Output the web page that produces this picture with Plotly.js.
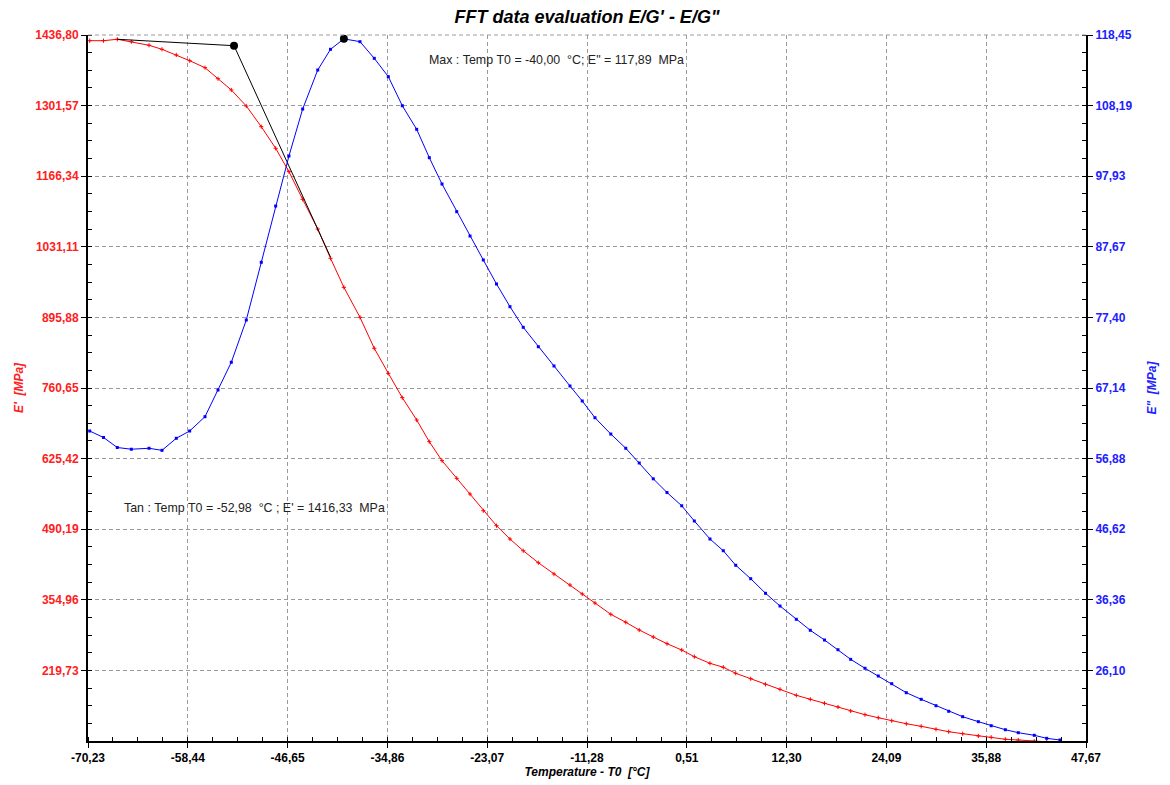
<!DOCTYPE html>
<html><head><meta charset="utf-8">
<script src="https://cdn.plot.ly/plotly-3.0.1.min.js"></script>
<style>html,body{margin:0;padding:0;background:#fff}#chart{width:1170px;height:785px}</style>
</head><body><div id="chart"></div>
<script>
// Temperature T0 [°C]
const temperature = [
  -70.03, -68.40, -66.77, -65.11, -63.02, -61.49, -59.80, -58.22, -56.41, -54.87,
  -53.30, -51.53, -49.76, -48.06, -46.49, -44.87, -43.09, -41.58, -40.00, -38.10,
  -36.41, -34.75, -33.10, -31.40, -29.91, -28.41, -26.67, -25.10, -23.53, -21.97,
  -20.38, -18.81, -17.03, -15.18, -13.29, -11.84, -10.34, -8.47, -6.70, -5.11,
  -3.45, -1.83, -0.09, 1.40, 3.25, 4.82, 6.29, 8.06, 9.81, 11.52,
  13.45, 15.10, 16.78, 18.37, 19.87, 21.56, 23.13, 24.72, 26.44, 28.20,
  29.95, 31.45, 33.10, 34.95, 36.47, 38.14, 39.67, 41.56, 43.03, 44.60
];
// E' [MPa] (storage modulus)
const eStorage = [
  1425.9, 1425.9, 1428.6, 1424.0, 1417.1, 1409.4, 1398.5, 1387.6, 1374.2, 1353.1,
  1331.5, 1300.8, 1261.2, 1219.8, 1175.0, 1122.1, 1065.2, 1009.1, 953.5, 896.1,
  836.7, 788.8, 742.1, 699.4, 657.8, 621.4, 587.7, 557.6, 525.6, 496.9,
  471.4, 448.9, 426.0, 404.4, 383.3, 366.1, 348.8, 327.2, 311.9, 297.1,
  283.7, 270.9, 258.8, 246.0, 233.3, 225.7, 214.2, 203.8, 193.1, 183.5,
  172.0, 164.4, 156.7, 149.6, 142.0, 134.9, 129.1, 123.4, 117.6, 112.6,
  106.9, 102.3, 98.5, 94.1, 91.6, 87.8, 86.4, 84.0, 83.0, 82.0
];
// E" [MPa] (loss modulus)
const eLoss = [
  60.89, 59.95, 58.49, 58.24, 58.38, 58.08, 59.83, 60.89, 62.97, 66.85,
  70.88, 77.02, 85.41, 93.59, 100.86, 107.69, 113.36, 116.37, 117.89, 117.48,
  115.06, 112.39, 108.17, 104.74, 100.62, 96.79, 92.77, 89.23, 85.75, 82.26,
  78.96, 75.96, 73.14, 70.34, 67.43, 65.25, 62.82, 60.45, 58.38, 56.24,
  53.94, 51.95, 50.02, 47.81, 45.19, 43.49, 41.37, 39.42, 37.30, 35.45,
  33.52, 31.92, 30.51, 29.10, 27.70, 26.40, 25.28, 24.16, 22.85, 21.89,
  20.96, 20.15, 19.36, 18.64, 18.05, 17.47, 17.04, 16.66, 16.22, 15.98
];
// Tangent construction
const tangentT = [-66.77, -52.98, -41.60];
const tangentE = [1428.6, 1416.33, 1012.0];
const tanPointT = [-52.98];
const tanPointE = [1416.33];
const maxPointT = [-40.00];
const maxPointE = [117.89];

// Axis ranges and tick labels
const xRange = [-70.23, 47.67];
const xTickVals = [-70.23, -58.44, -46.65, -34.86, -23.07, -11.28, 0.51, 12.30, 24.09, 35.88, 47.67];
const xTickText = ["-70,23", "-58,44", "-46,65", "-34,86", "-23,07", "-11,28", "0,51", "12,30", "24,09", "35,88", "47,67"];
const yRange = [84.50, 1436.80];
const yTickVals = [219.73, 354.96, 490.19, 625.42, 760.65, 895.88, 1031.11, 1166.34, 1301.57, 1436.80];
const yTickText = ["219,73", "354,96", "490,19", "625,42", "760,65", "895,88", "1031,11", "1166,34", "1301,57", "1436,80"];
const y2Range = [15.83, 118.45];
const y2TickVals = [26.10, 36.36, 46.62, 56.88, 67.14, 77.40, 87.67, 97.93, 108.19, 118.45];
const y2TickText = ["26,10", "36,36", "46,62", "56,88", "67,14", "77,40", "87,67", "97,93", "108,19", "118,45"];

const FONT = "Liberation Sans, Arial, sans-serif";
const nb = s => s.replace(/ /g, "\u00a0");

const traces = [
  {x: temperature, y: eStorage, type: "scatter", mode: "lines+markers", yaxis: "y",
   line: {color: "#ff0000", width: 1},
   marker: {symbol: "cross-thin", size: 3, line: {color: "#ff0000", width: 1}, color: "#ff0000"}},
  {x: temperature, y: eLoss, type: "scatter", mode: "lines+markers", yaxis: "y2",
   line: {color: "#0000ff", width: 1},
   marker: {symbol: "square", size: 3, color: "#0000ff"}},
  {x: tangentT, y: tangentE, type: "scatter", mode: "lines", yaxis: "y",
   line: {color: "#000000", width: 1}},
  {x: tanPointT, y: tanPointE, type: "scatter", mode: "markers", yaxis: "y",
   marker: {symbol: "circle", size: 8, color: "#000000"}},
  {x: maxPointT, y: maxPointE, type: "scatter", mode: "markers", yaxis: "y2",
   marker: {symbol: "circle", size: 8, color: "#000000"}, cliponaxis: false}
];

const gridStyle = {showgrid: true, gridcolor: "#9a9a9a", gridwidth: 1, griddash: "4px,3px"};

const layout = {
  width: 1170, height: 785,
  margin: {l: 88, r: 84, t: 35, b: 44},
  paper_bgcolor: "#ffffff", plot_bgcolor: "#ffffff",
  showlegend: false,
  hovermode: false,
  title: {text: "FFT data evaluation E/G' - E/G\"", x: 0.5, xref: "paper", xanchor: "center",
          y: 1 - 17/785, yref: "container", yanchor: "middle",
          font: {family: FONT, size: 18, weight: "bold", style: "italic", color: "#000"}},
  xaxis: Object.assign({
    range: xRange, tickmode: "array", tickvals: xTickVals, ticktext: xTickText,
    ticks: "outside", ticklen: 5, tickwidth: 1, tickcolor: "#000",
    showline: true, linewidth: 2, linecolor: "#000", zeroline: false, automargin: false,
    tickfont: {family: FONT, size: 12, weight: "bold", color: "#000"},
    minor: {ticks: "inside", ticklen: 4, tickwidth: 1, tickcolor: "#000", tick0: -70.23, dtick: 2.9475, showgrid: false},
    title: {text: nb("Temperature - T0  [°C]"), standoff: 2,
            font: {family: FONT, size: 12, weight: "bold", style: "italic", color: "#000"}}
  }, gridStyle),
  yaxis: Object.assign({
    range: yRange, tickmode: "array", tickvals: yTickVals, ticktext: yTickText,
    ticks: "outside", ticklen: 5, tickwidth: 1, tickcolor: "#000",
    showline: true, linewidth: 2, linecolor: "#000", zeroline: false, automargin: false,
    tickfont: {family: FONT, size: 12, weight: "bold", color: "#ff2020"},
    minor: {ticks: "inside", ticklen: 4, tickwidth: 1, tickcolor: "#000", tick0: 84.50, dtick: 33.8075, showgrid: false},
    title: {text: nb("E'  [MPa]"), standoff: 9,
            font: {family: FONT, size: 12, weight: "bold", style: "italic", color: "#ff2020"}}
  }, gridStyle),
  yaxis2: {
    overlaying: "y", side: "right",
    range: y2Range, tickmode: "array", tickvals: y2TickVals, ticktext: y2TickText,
    ticks: "outside", ticklen: 5, tickwidth: 1, tickcolor: "#000",
    showline: true, linewidth: 2, linecolor: "#000", zeroline: false, showgrid: false, automargin: false,
    tickfont: {family: FONT, size: 12, weight: "bold", color: "#2020ff"},
    minor: {ticks: "inside", ticklen: 4, tickwidth: 1, tickcolor: "#000", tick0: 15.83, dtick: 2.5655, showgrid: false},
    title: {text: nb("E\"  [MPa]"), standoff: 16,
            font: {family: FONT, size: 12, weight: "bold", style: "italic", color: "#2020ff"}}
  },
  shapes: [
    {type: "line", xref: "paper", yref: "paper", x0: 0, x1: 1, y0: 1, y1: 1,
     line: {color: "#9a9a9a", width: 1, dash: "4px,3px"}}
  ],
  annotations: [
    {xref: "paper", yref: "paper", x: (427-88)/998, y: (741-60)/706, xanchor: "left", yanchor: "middle",
     showarrow: false, text: nb("Max : Temp T0 = -40,00  °C; E\" = 117,89  MPa"),
     font: {family: FONT, size: 12.4, color: "#222"}},
    {xref: "paper", yref: "paper", x: (122-88)/998, y: (741-508)/706, xanchor: "left", yanchor: "middle",
     showarrow: false, text: nb("Tan : Temp T0 = -52,98  °C ; E' = 1416,33  MPa"),
     font: {family: FONT, size: 12.4, color: "#222"}}
  ]
};

Plotly.newPlot("chart", traces, layout, {displayModeBar: false, staticPlot: true});
</script>
</body></html>
